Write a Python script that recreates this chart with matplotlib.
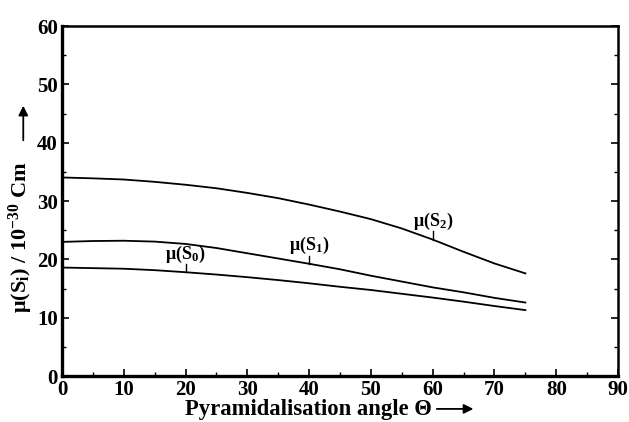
import matplotlib
matplotlib.use("Agg")
import matplotlib.pyplot as plt
import numpy as np
from matplotlib.ticker import MultipleLocator
from matplotlib.patches import FancyArrowPatch

theta = [0, 5, 10, 15, 20, 25, 30, 35, 40, 45, 50, 55, 60, 65, 70, 75]
mu_S0 = [18.6, 18.5, 18.4, 18.15, 17.8, 17.4, 16.95, 16.45, 15.9, 15.3, 14.75, 14.1, 13.45, 12.75, 12.0, 11.3]
mu_S1 = [23.0, 23.15, 23.2, 23.05, 22.65, 21.95, 21.05, 20.15, 19.25, 18.3, 17.2, 16.2, 15.2, 14.35, 13.4, 12.6]
mu_S2 = [34.05, 33.9, 33.7, 33.3, 32.8, 32.2, 31.4, 30.5, 29.4, 28.2, 26.9, 25.3, 23.4, 21.3, 19.3, 17.6]

labels = ["μ(S$_0$)", "μ(S$_1$)", "μ(S$_2$)"]
label_theta = [20, 40, 60]

plt.rcParams['font.family'] = ['Liberation Serif', 'DejaVu Serif']
plt.rcParams['mathtext.fontset'] = 'custom'
plt.rcParams['mathtext.rm'] = 'Liberation Serif:bold'
plt.rcParams['mathtext.it'] = 'Liberation Serif:bold'
plt.rcParams['mathtext.bf'] = 'Liberation Serif:bold'
plt.rcParams['mathtext.default'] = 'bf'

fig = plt.figure(figsize=(6.29, 4.22), dpi=100)
ax = fig.add_axes([0.0986, 0.109, 0.884, 0.829])

series = [mu_S0, mu_S1, mu_S2]
for ys in series:
    ax.plot(theta, ys, color='black', lw=1.3)

for lab, lt, ys in zip(labels, label_theta, series):
    yv = np.interp(lt, theta, ys)
    ax.plot([lt, lt], [yv, yv + 1.4], color='black', lw=1.0)
    ax.text(lt, yv + 1.25, lab, ha='center', va='bottom', fontsize=13, fontweight='bold')

ax.set_xlim(0, 90)
ax.set_ylim(0, 60)
ax.xaxis.set_major_locator(MultipleLocator(10))
ax.xaxis.set_minor_locator(MultipleLocator(5))
ax.yaxis.set_major_locator(MultipleLocator(10))
ax.yaxis.set_minor_locator(MultipleLocator(5))
ax.tick_params(which='both', direction='in', top=False, right=True)
ax.tick_params(which='major', length=5, width=1.2, labelsize=15, pad=3)
ax.tick_params(which='minor', length=3, width=1.0)
for lbl in ax.get_xticklabels() + ax.get_yticklabels():
    lbl.set_fontweight('bold')
for s in ax.spines.values():
    s.set_linewidth(1.8)
ax.spines['bottom'].set_linewidth(2.4)
ax.spines['left'].set_linewidth(2.4)

fig.text(0.491, 0.029, "Pyramidalisation angle Θ", ha='center', va='center',
         fontsize=16.3, fontweight='bold')
fig.add_artist(FancyArrowPatch((0.690, 0.031), (0.757, 0.031),
               transform=fig.transFigure, arrowstyle='-|>', mutation_scale=14,
               color='black', lw=1.3))
fig.text(0.034, 0.438, "μ(S$_i$) / 10$^{-30}$ Cm", ha='center', va='center',
         rotation=90, fontsize=16, fontweight='bold')
fig.add_artist(FancyArrowPatch((0.037, 0.661), (0.037, 0.756),
               transform=fig.transFigure, arrowstyle='-|>', mutation_scale=14,
               color='black', lw=1.3))

fig.savefig("out.png", dpi=100)
